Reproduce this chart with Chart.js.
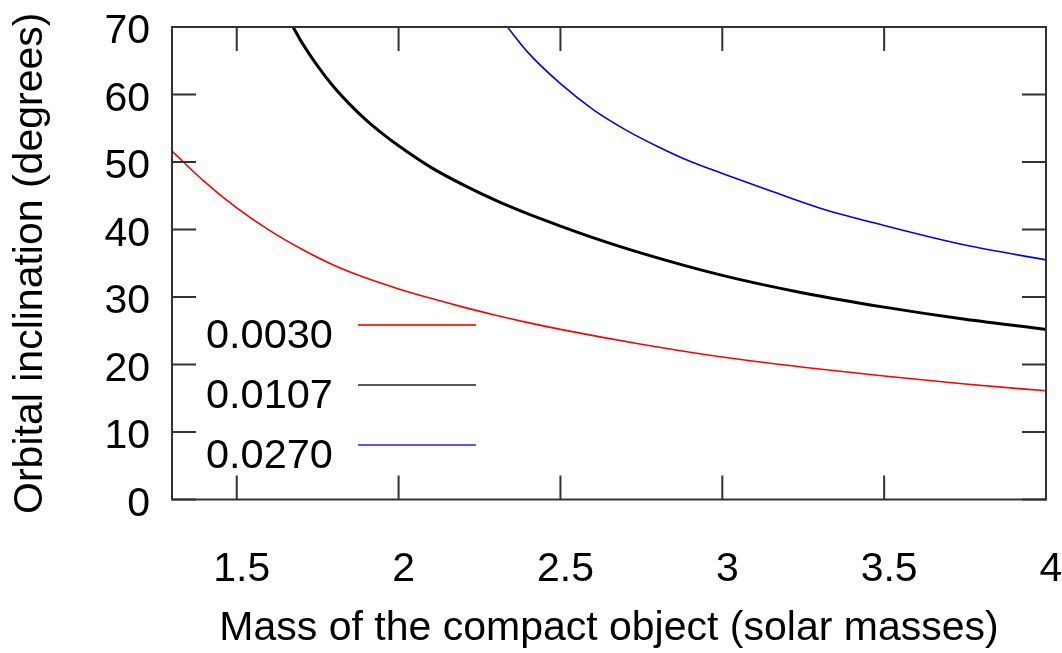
<!DOCTYPE html>
<html>
<head>
<meta charset="utf-8">
<script src="https://cdn.jsdelivr.net/npm/chart.js@4.4.1/dist/chart.umd.min.js"></script>
<style>
  html, body { margin: 0; padding: 0; background: #fff; }
  #wrap { width: 1062px; height: 653px; }
</style>
</head>
<body>
<div id="wrap"><canvas id="myChart" width="1062" height="653"></canvas></div>
<script>
// axis ticks
const massTicks = [1.5, 2, 2.5, 3, 3.5, 4]
const inclTicks = [0, 10, 20, 30, 40, 50, 60, 70]

// mass function values used as curve labels
const seriesNames = ['0.0030', '0.0107', '0.0270']
const seriesColors = ['#ff0000', '#000000', '#0000ff']
const seriesWidths = [1.6, 3, 1.6]

// f = 0.0030
const massA = [1.30, 1.40, 1.50, 1.60, 1.70, 1.80, 1.90, 2.00, 2.10, 2.20, 2.30, 2.40, 2.50, 2.75, 3.00, 3.25, 3.50, 3.75, 4.00]
const inclA = [51.6, 47.1, 43.2, 39.9, 37.1, 34.7, 32.8, 31.2, 29.8, 28.5, 27.3, 26.2, 25.2, 23.0, 21.1, 19.6, 18.3, 17.1, 16.1]

// f = 0.0107
const massB = [1.674, 1.70, 1.75, 1.80, 1.85, 1.90, 1.95, 2.00, 2.10, 2.20, 2.30, 2.40, 2.50, 2.60, 2.75, 3.00, 3.25, 3.50, 3.75, 4.00]
const inclB = [70.0, 67.8, 64.2, 61.1, 58.5, 56.2, 54.2, 52.4, 49.2, 46.6, 44.3, 42.3, 40.5, 38.8, 36.5, 33.2, 30.6, 28.5, 26.7, 25.2]

// f = 0.0270
const massC = [2.336, 2.40, 2.50, 2.60, 2.70, 2.80, 2.90, 3.00, 3.15, 3.30, 3.50, 3.75, 4.00]
const inclC = [70.0, 66.2, 61.6, 57.8, 54.8, 52.3, 50.1, 48.3, 45.7, 43.2, 40.6, 37.7, 35.5]

const FONT = "'Liberation Sans', Arial, Helvetica, sans-serif"
const FONT_SIZE = 41
const TICK = 24

function toPoints(xs, ys) {
  return xs.map((m, i) => ({ x: m, y: ys[i] }))
}

const curves = [toPoints(massA, inclA), toPoints(massB, inclB), toPoints(massC, inclC)]

// box round the plot with inward ticks on all four sides
const frameTicks = {
  id: 'frameTicks',
  afterDatasetsDraw(chart) {
    const { ctx, chartArea: a, scales: { x, y } } = chart
    ctx.save()
    ctx.strokeStyle = '#333'
    ctx.lineWidth = 2
    ctx.beginPath()
    massTicks.forEach(v => {
      const px = x.getPixelForValue(v)
      ctx.moveTo(px, a.bottom); ctx.lineTo(px, a.bottom - TICK)
      ctx.moveTo(px, a.top); ctx.lineTo(px, a.top + TICK)
    })
    inclTicks.forEach(v => {
      const py = y.getPixelForValue(v)
      ctx.moveTo(a.left, py); ctx.lineTo(a.left + TICK, py)
      ctx.moveTo(a.right, py); ctx.lineTo(a.right - TICK, py)
    })
    ctx.stroke()
    ctx.strokeRect(a.left, a.top, a.right - a.left, a.bottom - a.top)
    ctx.restore()
  }
}

// gnuplot style key: label first, then a line sample
const keyBox = {
  id: 'keyBox',
  afterDraw(chart) {
    const { ctx, chartArea: a } = chart
    const legendWidths = [2, 1.5, 1.5]
    const legendColors = ['#ff3030', '#222', '#2020ff']
    ctx.save()
    ctx.font = '41.5px ' + FONT
    ctx.fillStyle = '#000'
    ctx.textAlign = 'left'
    ctx.textBaseline = 'alphabetic'
    seriesNames.forEach((name, i) => {
      const lineY = a.top + 298 + i * 60
      ctx.fillText(name, a.left + 34, lineY + 23)
      ctx.strokeStyle = legendColors[i]
      ctx.lineWidth = legendWidths[i]
      ctx.beginPath()
      ctx.moveTo(a.left + 186, lineY)
      ctx.lineTo(a.left + 304, lineY)
      ctx.stroke()
    })
    ctx.restore()
  }
}

const ctx = document.getElementById('myChart').getContext('2d')
const myChart = new Chart(ctx, {
  type: 'scatter',
  data: {
    datasets: curves.map((pts, i) => ({
      label: seriesNames[i],
      data: pts,
      showLine: true,
      borderColor: seriesColors[i],
      borderWidth: seriesWidths[i],
      pointRadius: 0,
      cubicInterpolationMode: 'monotone'
    }))
  },
  options: {
    responsive: false,
    animation: false,
    devicePixelRatio: 1,
    layout: { padding: { top: 27, right: 16, left: 0, bottom: 0 } },
    plugins: { legend: { display: false }, tooltip: { enabled: false } },
    scales: {
      x: {
        type: 'linear',
        min: 1.3,
        max: 4,
        grid: { display: false, drawTicks: false },
        border: { display: false },
        afterBuildTicks: s => { s.ticks = massTicks.map(v => ({ value: v })) },
        afterFit: s => { s.height = 153.5; s.paddingLeft = 0; s.paddingRight = 0 },
        ticks: {
          color: '#000',
          font: { family: FONT, size: FONT_SIZE },
          padding: 46,
          labelOffset: 5,
          maxRotation: 0,
          autoSkip: false,
          callback: v => String(v)
        },
        title: {
          display: true,
          text: 'Mass of the compact object (solar masses)',
          color: '#000',
          font: { family: FONT, size: FONT_SIZE },
          padding: { top: 0, bottom: 0 }
        }
      },
      y: {
        type: 'linear',
        min: 0,
        max: 70,
        grid: { display: false, drawTicks: false },
        border: { display: false },
        afterBuildTicks: s => { s.ticks = inclTicks.map(v => ({ value: v })) },
        afterFit: s => { s.width = 172; s.paddingTop = 0; s.paddingBottom = 0 },
        ticks: {
          color: '#000',
          font: { family: FONT, size: FONT_SIZE },
          padding: 22,
          labelOffset: 5,
          autoSkip: false,
          callback: v => String(v)
        },
        title: {
          display: true,
          text: 'Orbital inclination (degrees)',
          color: '#000',
          font: { family: FONT, size: FONT_SIZE },
          padding: { top: 6, bottom: 0 }
        }
      }
    }
  },
  plugins: [frameTicks, keyBox]
})
</script>
</body>
</html>
